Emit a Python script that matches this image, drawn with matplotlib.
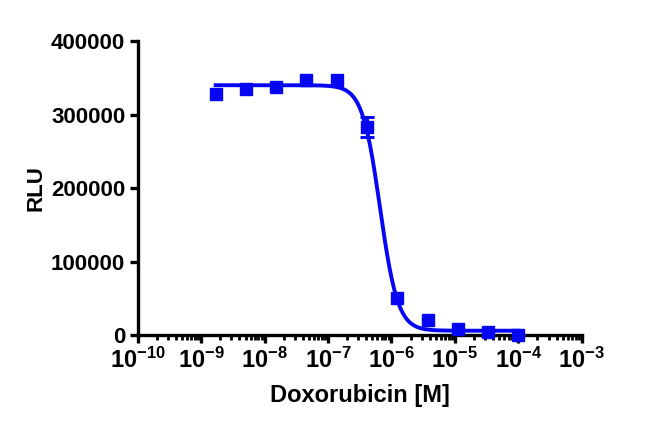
import numpy as np
import matplotlib
matplotlib.use("Agg")
import matplotlib.pyplot as plt
from matplotlib.ticker import LogLocator, NullFormatter

plt.rcParams['font.family'] = ['Liberation Sans', 'DejaVu Sans']
plt.rcParams['font.weight'] = 'bold'
plt.rcParams['mathtext.fontset'] = 'custom'
plt.rcParams['mathtext.rm'] = 'Liberation Sans:bold'
plt.rcParams['mathtext.bf'] = 'Liberation Sans:bold'
plt.rcParams['mathtext.default'] = 'rm'

# doxorubicin concentrations (M), 3-fold dilution series
conc = [1.69e-9, 5.08e-9, 1.52e-8, 4.57e-8, 1.37e-7, 4.1e-7,
        1.23e-6, 3.7e-6, 1.11e-5, 3.33e-5, 1.0e-4]
rlu = [328000, 335000, 337000, 347000, 347000, 283000,
       50000, 20000, 8000, 4000, 0]
# only the 4.1e-7 point shows a visible error bar
err_conc = [4.1e-7]
err_rlu = [283000]
err_val = [14000]

# 4PL fit parameters
top = 340000
bottom = 6000
ic50 = 6.6e-7
hill = 3.1

xfit = np.logspace(np.log10(conc[0]), np.log10(conc[-1]), 400)
yfit = bottom + (top - bottom) / (1 + (xfit / ic50) ** hill)

blue = '#0606f2'
fig = plt.figure(figsize=(6.5, 4.28), dpi=100)
ax = fig.add_axes([0.212, 0.217, 0.683, 0.687])

ax.plot(xfit, yfit, color=blue, linewidth=2.8, zorder=2)
ax.errorbar(err_conc, err_rlu, yerr=err_val, fmt='none', ecolor=blue,
            elinewidth=2.2, capsize=5, capthick=2.2, zorder=3)
ax.plot(conc, rlu, 's', color=blue, markersize=9, zorder=4, clip_on=False)

ax.set_xscale('log')
ax.set_xlim(1e-10, 1e-3)
ax.set_ylim(0, 400000)
ax.set_yticks([0, 100000, 200000, 300000, 400000])
ax.set_yticklabels(['0', '100000', '200000', '300000', '400000'])
xt = [10.0 ** e for e in range(-10, -2)]
ax.set_xticks(xt)
ax.set_xticklabels([r'$10^{%d}$' % e for e in range(-10, -2)])
ax.xaxis.set_minor_locator(LogLocator(base=10, subs=np.arange(2, 10), numticks=20))
ax.xaxis.set_minor_formatter(NullFormatter())

for s in ['top', 'right']:
    ax.spines[s].set_visible(False)
for s in ['left', 'bottom']:
    ax.spines[s].set_linewidth(2.4)
ax.tick_params(which='major', direction='out', length=6, width=2.4, pad=3)
ax.tick_params(axis='y', labelsize=16)
ax.tick_params(axis='x', labelsize=17)
ax.tick_params(which='minor', direction='out', length=3.5, width=2)

ax.set_xlabel('Doxorubicin [M]', fontsize=17, fontweight='bold', labelpad=8)
ax.set_ylabel('RLU', fontsize=16, fontweight='bold', labelpad=3)

fig.savefig('out.png', dpi=100)
